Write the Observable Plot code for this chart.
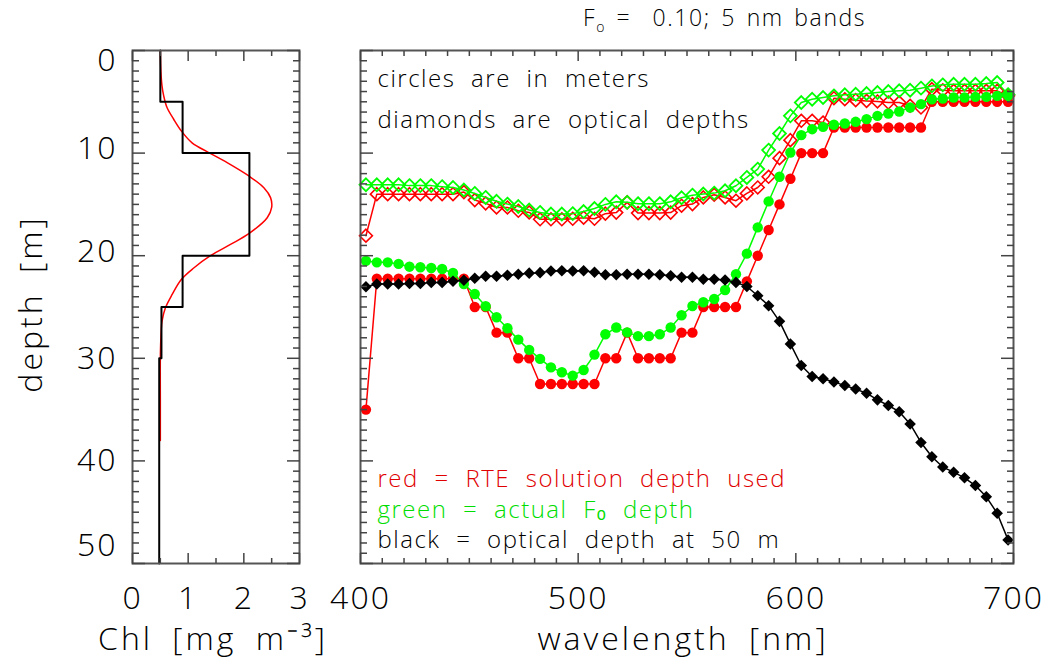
<!DOCTYPE html>
<html><head><meta charset="utf-8">
<script src="https://cdn.jsdelivr.net/npm/d3@7"></script>
<script src="https://cdn.jsdelivr.net/npm/@observablehq/plot@0.6"></script>
<style>
body{margin:0;background:#fff;}
#wrap{position:relative;width:1047px;height:661px;overflow:hidden;font-family:"Open Sans","DejaVu Sans",sans-serif;background:#fff;}
#left,#right{position:absolute;top:0;}
#left{left:0;}
#right{left:300px;}
#title{position:absolute;left:583px;top:6px;font-size:23px;white-space:pre;line-height:1;color:#000;font-weight:300;letter-spacing:1.6px;word-spacing:3px;}
#title sub{font-size:14px;}
g[aria-label="x-axis tick label"] text, g[aria-label="y-axis tick label"] text {letter-spacing:2px;}
g[aria-description="axis title"] text {letter-spacing:3px; word-spacing:8px;}
g[aria-description="legend note"] text {letter-spacing:1.5px; word-spacing:8px;}
</style></head><body>
<div id="wrap"><div id="left"></div><div id="right"></div><div id="title">F<sub>o</sub> =  0.10; 5 nm bands</div></div>
<script>
// ---------- left panel data: chlorophyll profile ----------
const chlLayerTop    = [0, 5, 10, 20, 25, 30];
const chlLayerBottom = [5, 10, 20, 25, 30, 50];
const chlLayerValue  = [0.5, 0.9, 2.1, 0.9, 0.52, 0.48];
const chlCurveDepth = [0, 2, 3.45, 4.4, 5.56, 6.7, 7.86, 9.0, 9.95, 10.93, 12.23, 13.37, 14.34, 15.3, 16.3, 17.85, 18.9, 20.0, 21.2, 22.3, 23.8, 25.1, 26.4, 28, 30, 34, 38];
const chlCurveValue = [0.5, 0.51, 0.53, 0.56, 0.62, 0.74, 0.88, 1.07, 1.37, 1.70, 2.09, 2.36, 2.48, 2.50, 2.42, 2.09, 1.76, 1.40, 1.10, 0.88, 0.71, 0.59, 0.53, 0.51, 0.5, 0.5, 0.5];

// ---------- right panel data: 5 nm band centres ----------
const wavelength = [402.5,407.5,412.5,417.5,422.5,427.5,432.5,437.5,442.5,447.5,
  452.5,457.5,462.5,467.5,472.5,477.5,482.5,487.5,492.5,497.5,
  502.5,507.5,512.5,517.5,522.5,527.5,532.5,537.5,542.5,547.5,
  552.5,557.5,562.5,567.5,572.5,577.5,582.5,587.5,592.5,597.5,
  602.5,607.5,612.5,617.5,622.5,627.5,632.5,637.5,642.5,647.5,
  652.5,657.5,662.5,667.5,672.5,677.5,682.5,687.5,692.5,697.5];
// red circles: RTE solution depth used (m)
const rteDepth = [35,22.25,22.25,22.25,22.25,22.25,22.25,22.25,22.25,22.25,
  25,25,27.5,27.5,30,30,32.5,32.5,32.5,32.5,
  32.5,32.5,30,30,27.5,30,30,30,30,27.5,
  27.5,25,25,25,25,22.5,20,17.5,15,12.5,
  10,10,10,7.5,7.5,7.5,7.5,7.5,7.5,7.5,
  7.5,7.5,5,5,5,5,5,5,5,5];
// green circles: actual Fo depth (m)
const actualDepth = [20.5,20.65,20.65,20.8,21.07,21.13,21.2,21.3,21.69,22.76,
  23.73,24.93,26.0,27.07,28.18,29.18,30.06,30.88,31.36,31.69,
  31.14,29.64,27.66,27.0,27.47,27.84,27.84,27.66,27.0,25.8,
  24.9,24.54,24.22,23.34,21.8,19.8,17.24,14.71,12.31,9.94,
  8.25,7.67,7.44,7.24,7.11,6.95,6.69,6.37,6.14,5.95,
  5.56,5.23,4.75,4.68,4.58,4.58,4.52,4.52,4.42,4.4];
// red diamonds: RTE solution depth as optical depth
const rteOptical = [18.05,14.0,14.0,14.0,14.0,14.0,14.0,14.0,14.0,13.8,
  14.58,14.9,15.3,15.3,15.62,15.78,16.45,16.45,16.45,16.4,
  16.3,16.4,15.9,15.8,14.8,15.85,15.85,15.85,15.8,15.13,
  14.97,14.32,14.06,14.32,14.64,13.93,13.35,12.31,10.49,8.74,
  6.85,6.85,7.02,4.65,4.75,4.84,4.91,4.97,5.07,5.07,
  5.39,5.56,3.77,3.87,3.93,3.93,3.93,3.93,3.93,4.42];
// green diamonds: actual Fo depth as optical depth
const actualOptical = [13.09,13.09,13.09,13.09,13.17,13.17,13.17,13.27,13.35,13.6,
  13.93,14.32,14.7,14.97,15.2,15.55,15.78,15.94,15.94,15.9,
  15.7,15.4,15.0,14.75,14.8,14.93,14.93,14.93,14.75,14.35,
  14.1,13.99,13.9,13.67,13.18,12.37,11.56,9.71,8.09,6.37,
  5.07,4.75,4.58,4.42,4.32,4.26,4.19,4.1,4.0,3.93,
  3.87,3.67,3.45,3.35,3.29,3.29,3.29,3.22,3.12,4.3];
// black diamonds: optical depth at 50 m
const optical50 = [23.02,22.76,22.76,22.76,22.7,22.7,22.6,22.6,22.5,22.4,
  22.2,22.0,22.0,21.9,21.8,21.7,21.65,21.5,21.46,21.5,
  21.46,21.62,21.85,21.85,21.8,21.8,21.8,21.85,21.95,22.1,
  22.1,22.3,22.3,22.37,22.6,23.0,23.9,24.87,26.4,28.6,
  30.7,31.78,32.0,32.3,32.66,33.0,33.4,34.05,34.6,35.2,
  36.4,38.2,39.6,40.6,41.1,41.65,42.4,43.5,45.1,47.7];

// ---------- ticks ----------
const depthMajor = [0, 10, 20, 30, 40, 50];
const depthMinor = d3.range(1, 50).filter(d => d % 10 !== 0);
const chlMajor = [0, 1, 2, 3];
const chlMinor = [0.5, 1.5, 2.5];
const wlMajor = [400, 500, 600, 700];
const wlMinor = d3.range(410, 700, 10).filter(d => d % 100 !== 0);

// ---------- tables ----------
const steps = chlLayerValue.flatMap((v, i) => [{chl: v, depth: chlLayerTop[i]}, {chl: v, depth: chlLayerBottom[i]}]);
const curve = chlCurveDepth.map((d, i) => ({depth: d, chl: chlCurveValue[i]}));
const bands = wavelength.map((w, i) => ({wl: w, rteD: rteDepth[i], actD: actualDepth[i], rteO: rteOptical[i], actO: actualOptical[i], od50: optical50[i]}));

const TICK = "#444";
const FONT = "'Open Sans','DejaVu Sans',sans-serif";
const RED = "#ff0000", GREEN = "#00ff00";

function frameTicks(xMajor, xMinor) {
  const c = {tickFormat: () => "", label: null, stroke: TICK, strokeWidth: 1.5};
  return [
    Plot.axisY(depthMinor, {...c, anchor: "left", tickSize: -7}),
    Plot.axisY(depthMajor, {...c, anchor: "left", tickSize: -13}),
    Plot.axisY(depthMinor, {...c, anchor: "right", tickSize: -7}),
    Plot.axisY(depthMajor, {...c, anchor: "right", tickSize: -13}),
    Plot.axisX(xMinor, {...c, anchor: "bottom", tickSize: -5}),
    Plot.axisX(xMajor, {...c, anchor: "bottom", tickSize: -10}),
    Plot.axisX(xMinor, {...c, anchor: "top", tickSize: -5}),
    Plot.axisX(xMajor, {...c, anchor: "top", tickSize: -10})
  ];
}
const labelStyle = {label: null, tickSize: 0, fontSize: 32, fontWeight: 300};
const titleStyle = {text: d => d, fontSize: 32, fontWeight: 300, ariaDescription: "axis title"};
const noteStyle = {text: d => d, textAnchor: "start", lineAnchor: "bottom", dx: 17, fontSize: 24, fontWeight: 300, ariaDescription: "legend note"};

const left = Plot.plot({
  width: 340, height: 661,
  marginLeft: 132, marginRight: 41, marginTop: 50, marginBottom: 98,
  style: {background: "none", overflow: "visible", fontFamily: FONT},
  x: {domain: [0, 3]},
  y: {domain: [0, 50], reverse: true},
  marks: [
    Plot.line(curve, {x: "chl", y: "depth", stroke: RED, strokeWidth: 1.5, curve: "catmull-rom"}),
    Plot.line(steps, {x: "chl", y: "depth", stroke: "#000", strokeWidth: 2}),
    Plot.frame({stroke: "#555", strokeWidth: 2}),
    ...frameTicks(chlMajor, chlMinor),
    Plot.axisY([0], {...labelStyle, anchor: "left", tickPadding: 15, dy: 10}),
    Plot.axisY([10, 20], {...labelStyle, anchor: "left", tickPadding: 15, dy: -4}),
    Plot.axisY([30, 40], {...labelStyle, anchor: "left", tickPadding: 15}),
    Plot.axisY([50], {...labelStyle, anchor: "left", tickPadding: 15, dy: -18}),
    Plot.axisX(chlMajor, {...labelStyle, anchor: "bottom", tickPadding: 23}),
    Plot.text(["Chl [mg m⁻³]"], {...titleStyle, frameAnchor: "bottom", lineAnchor: "bottom", dy: 86, dx: -3}),
    Plot.text(["depth [m]"], {...titleStyle, frameAnchor: "left", textAnchor: "middle", lineAnchor: "middle", rotate: -90, dx: -101, dy: -3})
  ]
});
document.getElementById("left").append(left);

const right = Plot.plot({
  width: 747, height: 661,
  marginLeft: 60, marginRight: 34, marginTop: 50, marginBottom: 98,
  style: {background: "none", overflow: "visible", fontFamily: FONT},
  x: {domain: [400, 700]},
  y: {domain: [0, 50], reverse: true},
  marks: [
    Plot.line(bands, {x: "wl", y: "rteD", stroke: RED, strokeWidth: 1.5}),
    Plot.dot(bands, {x: "wl", y: "rteD", r: 5.2, fill: RED, symbol: "circle"}),
    Plot.line(bands, {x: "wl", y: "rteO", stroke: RED, strokeWidth: 1.5}),
    Plot.dot(bands, {x: "wl", y: "rteO", r: 5.8, stroke: RED, strokeWidth: 1.6, fill: "none", symbol: "diamond2"}),
    Plot.line(bands, {x: "wl", y: "actD", stroke: GREEN, strokeWidth: 1.5}),
    Plot.dot(bands, {x: "wl", y: "actD", r: 5.2, fill: GREEN, symbol: "circle"}),
    Plot.line(bands, {x: "wl", y: "actO", stroke: GREEN, strokeWidth: 1.5}),
    Plot.dot(bands, {x: "wl", y: "actO", r: 5.8, stroke: GREEN, strokeWidth: 1.8, fill: "none", symbol: "diamond2"}),
    Plot.line(bands, {x: "wl", y: "od50", stroke: "#000", strokeWidth: 1.5}),
    Plot.dot(bands, {x: "wl", y: "od50", r: 5.2, fill: "#000", symbol: "diamond2"}),
    Plot.frame({stroke: "#555", strokeWidth: 2}),
    ...frameTicks(wlMajor, wlMinor),
    Plot.axisX(wlMajor, {...labelStyle, anchor: "bottom", tickPadding: 23}),
    Plot.text(["wavelength [nm]"], {...titleStyle, frameAnchor: "bottom", lineAnchor: "bottom", dy: 86, dx: -4}),
    Plot.text(["circles are in meters"], {...noteStyle, frameAnchor: "top-left", dy: 36}),
    Plot.text(["diamonds are optical depths"], {...noteStyle, frameAnchor: "top-left", dy: 77}),
    Plot.text(["red = RTE solution depth used"], {...noteStyle, frameAnchor: "bottom-left", dy: -77, fill: "#e00000"}),
    Plot.text(["green = actual Fₒ depth"], {...noteStyle, frameAnchor: "bottom-left", dy: -46, fill: "#00dd00"}),
    Plot.text(["black = optical depth at 50 m"], {...noteStyle, frameAnchor: "bottom-left", dy: -16, fill: "#000"})
  ]
});
document.getElementById("right").append(right);
</script>
</body></html>
